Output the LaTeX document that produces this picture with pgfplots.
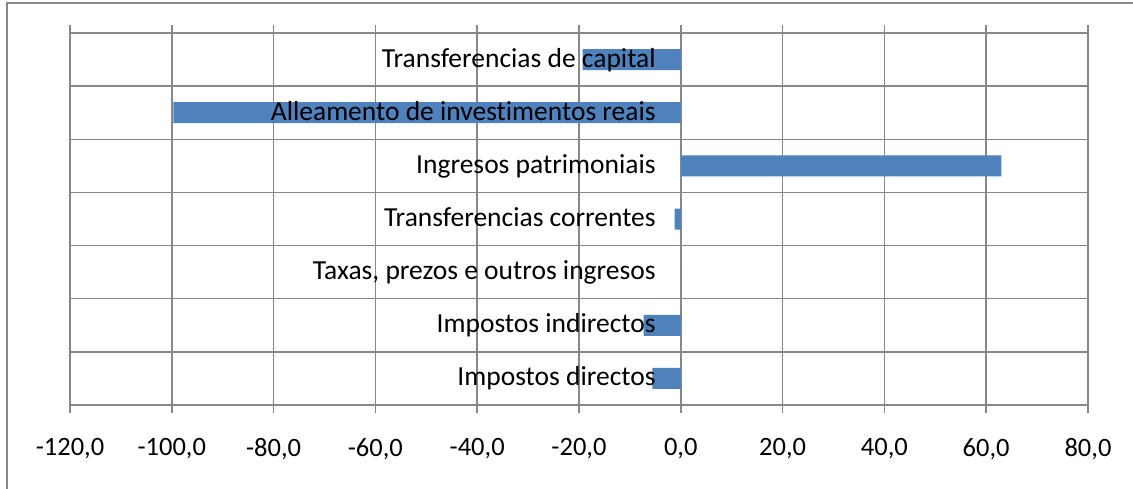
\documentclass[border=0pt]{standalone}
\usepackage{fontspec}
\setmainfont{Carlito}[Ligatures={NoCommon,NoRare}]
\usepackage{pgfplots}
\pgfplotsset{compat=1.18}
\definecolor{linegray}{RGB}{136,136,136}
\definecolor{barblue}{RGB}{79,129,189}
\begin{document}
\begin{tikzpicture}
\useasboundingbox (0pt,0pt) rectangle (1133pt,-488pt);
% outer frame (right and bottom run off the page)
\draw[linegray, line width=1.5pt] (7pt,-500pt) -- (7pt,-3pt) -- (1145pt,-3pt);
\begin{axis}[
  at={(70pt,-405pt)}, anchor=south west,
  scale only axis, width=1018pt, height=372pt,
  xbar, bar width=21pt,
  xmin=-120, xmax=80, ymin=-0.5, ymax=6.5,
  xtick={-120,-100,...,80},
  ytick={0.5,1.5,...,5.5}, yticklabels={},
  xmajorgrids, ymajorgrids,
  grid style={linegray, line width=1.5pt},
  axis line style={linegray, line width=1.5pt},
  xtick align=outside, major tick length=8pt,
  xtick style={linegray, line width=1.5pt},
  ytick style={draw=none},
  tick label style={font=\fontsize{26.5}{31}\selectfont},
  xticklabel style={yshift=-22pt},
  /pgf/number format/.cd, fixed, fixed zerofill, precision=1, use comma, 1000 sep={},
  assume math mode=true,
]
\addplot[fill=barblue, draw=none] coordinates {
  (-5.6,0) (-7.3,1) (0,2) (-1.2,3) (63.0,4) (-99.7,5) (-19.3,6)};
\foreach \lab [count=\i from 0] in {Impostos directos,Impostos indirectos,{Taxas, prezos e outros ingresos},Transferencias correntes,Ingresos patrimoniais,Alleamento de investimentos reais,Transferencias de capital}{
  \edef\temp{\noexpand\node[anchor=base east, inner sep=0pt, yshift=-7.5pt, font=\noexpand\fontsize{27.5}{32}\noexpand\selectfont] at (axis cs:-4.9,\i) {\lab};}
  \temp
}
\end{axis}
\end{tikzpicture}
\end{document}
